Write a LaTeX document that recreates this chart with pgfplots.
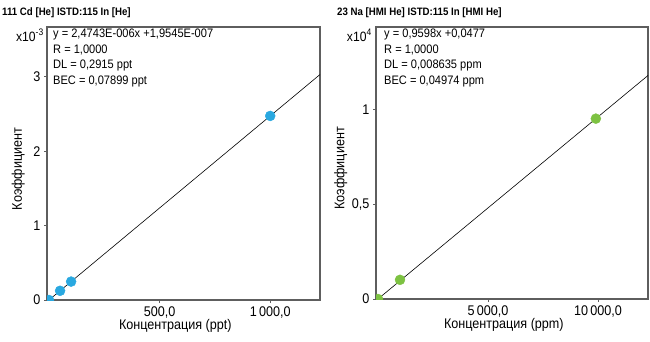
\documentclass[border=0pt]{standalone}
\usepackage{pgfplots}
\pgfplotsset{compat=1.18}
\usepackage{fontspec}
\setmainfont{Liberation Sans}[FakeStretch=0.9]
\definecolor{cdblue}{HTML}{29A8E0}
\definecolor{nagreen}{HTML}{7DC242}
\definecolor{axgray}{HTML}{5E5E5E}
\pgfplotsset{
  calib/.style={
    scale only axis, anchor=south west,
    width=273pt, height=273pt,
    axis line style={axgray, line width=1.1pt},
    tick style={axgray, line width=0.8pt},
    tick align=outside, major tick length=3pt,
    xtick pos=bottom, ytick pos=left,
    /pgf/number format/assume math mode=true,
    tick label style={font=\fontsize{14}{16}\selectfont},
    label style={font=\fontsize{14}{16}\selectfont},
    xlabel style={at={(axis description cs:0.47,-0.095)}, anchor=center},
    ylabel style={anchor=center},
    clip marker paths=true,
    scaled ticks=false,
  }
}
\begin{document}
\begin{tikzpicture}[x=1pt,y=1pt]
\useasboundingbox (0,0) rectangle (650,341);
% left chart
\begin{axis}[calib, at={(47pt,41pt)},
  xmin=-9, xmax=1225, ymin=0, ymax=3.67,
  xtick={500,1000}, xticklabels={{500,0}, {1\,000,0}},
  ytick={0,1,2,3}, yticklabels={0,1,2,3},
  xlabel={Концентрация (ppt)}, ylabel={Коэффициент},
  ylabel style={at={(axis description cs:-0.105,0.48)}},
  ]
\addplot[black, line width=0.6pt] coordinates {(0,0.00019545) (1225,3.0312)};
\addplot[only marks, mark=*, mark size=5pt, color=cdblue] coordinates {
  (0,0) (50,0.1239) (100,0.2476) (1000,2.4745)};
\end{axis}
\node[anchor=base west, font=\bfseries\fontsize{10.75}{12}\selectfont, inner sep=0pt] at (2,325) {111 Cd [He] ISTD:115 In [He]};
\node[anchor=base east, font=\fontsize{13.5}{15}\selectfont, inner sep=0pt] at (44,300) {x10\textsuperscript{-3}};
\node[anchor=north west, align=left, font=\fontsize{12.3}{15.5}\selectfont, inner sep=0pt] at (53,312) {y = 2,4743E-006x +1,9545E-007\\R = 1,0000\\DL = 0,2915 ppt\\BEC = 0,07899 ppt};
% right chart
\begin{axis}[calib, at={(376pt,42pt)}, width=272pt, height=272pt,
  xmin=-90, xmax=12270, ymin=0, ymax=1.433,
  xtick={5000,10000}, xticklabels={{5\,000,0}, {10\,000,0}},
  ytick={0,0.5,1}, yticklabels={0,{0,5},1},
  xlabel={Концентрация (ppm)}, ylabel={Коэффициент},
  ylabel style={at={(axis description cs:-0.13,0.48)}},
  ]
\addplot[black, line width=0.6pt] coordinates {(0,0.00000477) (12270,1.1777)};
\addplot[only marks, mark=*, mark size=5pt, color=nagreen] coordinates {
  (0,0) (1000,0.1010) (9900,0.9502)};
\end{axis}
\node[anchor=base west, font=\bfseries\fontsize{10.75}{12}\selectfont, inner sep=0pt] at (337,325) {23 Na [HMI He] ISTD:115 In [HMI He]};
\node[anchor=base east, font=\fontsize{13.5}{15}\selectfont, inner sep=0pt] at (372,300) {x10\textsuperscript{4}};
\node[anchor=north west, align=left, font=\fontsize{12.3}{15.5}\selectfont, inner sep=0pt] at (384,312) {y = 0,9598x +0,0477\\R = 1,0000\\DL = 0,008635 ppm\\BEC = 0,04974 ppm};
\end{tikzpicture}
\end{document}
